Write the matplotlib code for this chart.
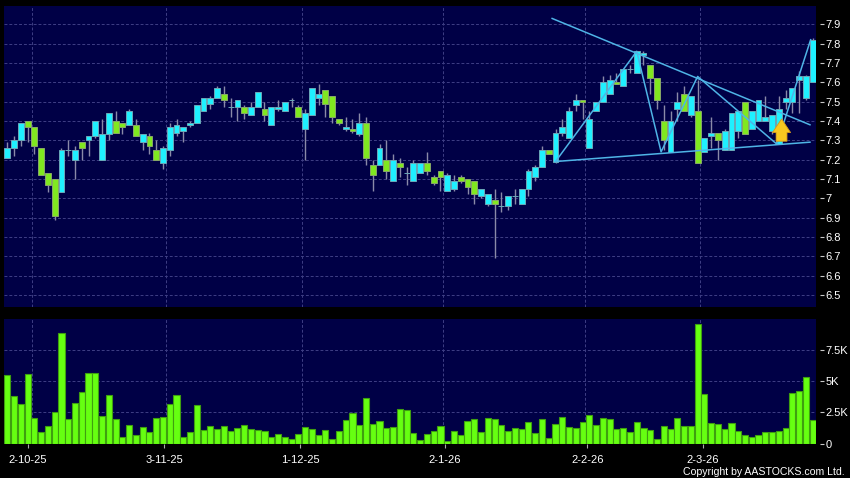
import matplotlib
matplotlib.use("Agg")
import matplotlib.pyplot as plt

plt.rcParams['font.family'] = 'Liberation Sans'

# candles
opens = [7.21,7.26,7.30,7.40,7.37,7.26,7.13,7.10,7.03,7.25,
         7.20,7.29,7.30,7.32,7.20,7.33,7.40,7.39,7.38,7.38,
         7.29,7.32,7.25,7.18,7.25,7.34,7.35,7.38,7.39,7.45,
         7.49,7.52,7.54,7.47,7.47,7.47,7.43,7.47,7.46,7.38,
         7.46,7.45,7.51,7.47,7.36,7.43,7.52,7.56,7.53,7.41,
         7.36,7.36,7.33,7.39,7.17,7.17,7.20,7.09,7.18,7.13,
         7.09,7.13,7.18,7.11,7.14,7.04,7.05,7.11,7.10,7.09,
         7.01,6.97,6.99,6.96,6.96,7.01,6.97,7.05,7.11,7.16,
         7.25,7.19,7.34,7.31,7.48,7.51,7.26,7.45,7.50,7.54,
         7.60,7.58,7.67,7.65,7.74,7.69,7.62,7.40,7.24,7.46,
         7.54,7.43,7.45,7.24,7.32,7.34,7.25,7.25,7.35,7.50,
         7.36,7.40,7.40,7.35,7.28,7.50,7.50,7.61,7.52,7.60]
closes = [7.26,7.30,7.39,7.37,7.27,7.12,7.07,6.91,7.25,7.25,
          7.25,7.26,7.32,7.40,7.33,7.44,7.34,7.37,7.45,7.32,
          7.33,7.27,7.20,7.26,7.37,7.38,7.37,7.39,7.48,7.52,
          7.52,7.57,7.51,7.47,7.51,7.44,7.47,7.55,7.43,7.47,
          7.47,7.50,7.51,7.42,7.44,7.57,7.54,7.49,7.42,7.39,
          7.37,7.35,7.39,7.21,7.12,7.26,7.14,7.20,7.16,7.13,
          7.18,7.18,7.14,7.08,7.11,7.12,7.09,7.09,7.06,7.02,
          7.05,7.02,6.97,6.96,7.01,7.01,7.05,7.14,7.16,7.25,
          7.23,7.34,7.37,7.45,7.51,7.50,7.41,7.50,7.60,7.61,
          7.59,7.67,7.67,7.76,7.75,7.62,7.51,7.30,7.40,7.50,
          7.45,7.53,7.18,7.31,7.34,7.30,7.35,7.44,7.45,7.33,
          7.45,7.51,7.42,7.43,7.46,7.52,7.57,7.63,7.63,7.82]
highs = [7.29,7.32,7.39,7.40,7.37,7.26,7.13,7.10,7.26,7.30,
         7.27,7.29,7.32,7.40,7.41,7.44,7.45,7.39,7.46,7.41,
         7.33,7.34,7.30,7.27,7.39,7.41,7.37,7.40,7.48,7.52,
         7.53,7.58,7.58,7.52,7.51,7.48,7.50,7.55,7.50,7.47,
         7.51,7.50,7.52,7.48,7.46,7.57,7.59,7.56,7.53,7.41,
         7.42,7.41,7.44,7.42,7.20,7.28,7.30,7.23,7.21,7.16,
         7.20,7.18,7.24,7.12,7.14,7.13,7.12,7.12,7.10,7.09,
         7.05,7.02,7.05,7.03,7.01,7.05,7.05,7.15,7.17,7.27,
         7.25,7.36,7.41,7.47,7.54,7.51,7.45,7.50,7.63,7.64,
         7.65,7.67,7.69,7.76,7.76,7.69,7.62,7.48,7.45,7.55,
         7.58,7.53,7.61,7.31,7.42,7.34,7.36,7.44,7.45,7.50,
         7.45,7.51,7.53,7.43,7.53,7.56,7.57,7.66,7.64,7.83]
lows = [7.21,7.22,7.27,7.29,7.23,7.12,7.03,6.89,7.03,7.22,
        7.10,7.20,7.22,7.31,7.20,7.30,7.34,7.33,7.38,7.32,
        7.25,7.23,7.20,7.15,7.22,7.32,7.29,7.37,7.39,7.45,
        7.46,7.52,7.47,7.42,7.40,7.41,7.43,7.47,7.40,7.38,
        7.45,7.45,7.47,7.42,7.20,7.43,7.48,7.42,7.39,7.38,
        7.35,7.34,7.32,7.17,7.04,7.17,7.10,7.09,7.11,7.07,
        7.09,7.13,7.12,7.07,7.04,7.04,7.04,7.08,7.02,6.97,
        7.00,6.96,6.69,6.93,6.94,6.97,6.97,7.01,7.09,7.16,
        7.23,7.18,7.32,7.31,7.45,7.41,7.26,7.45,7.50,7.54,
        7.59,7.58,7.65,7.65,7.69,7.54,7.46,7.25,7.24,7.40,
        7.45,7.42,7.18,7.24,7.26,7.20,7.25,7.25,7.31,7.33,
        7.36,7.40,7.40,7.33,7.28,7.46,7.44,7.44,7.51,7.60]

# volume in thousands
volumes = [5.46,3.76,3.17,5.59,2.04,0.91,1.42,2.53,8.84,1.94,3.25,4.09,5.65,5.65,
           2.20,3.84,1.94,0.51,1.48,0.70,1.32,0.89,2.02,2.12,3.12,3.90,0.54,0.89,
           3.09,1.10,1.42,1.16,1.37,0.99,1.24,1.45,1.16,1.10,0.99,0.48,0.75,0.51,
           0.32,0.73,1.29,1.16,0.67,1.05,0.35,0.97,1.85,2.45,1.48,3.66,1.56,1.77,
           1.24,1.32,2.77,2.69,0.81,0.27,0.78,0.99,1.42,0.19,0.99,0.70,1.83,1.96,
           0.94,2.02,1.94,1.48,1.02,1.24,1.16,1.72,0.86,1.96,0.43,1.53,2.15,1.32,
           1.24,1.72,2.31,1.51,2.02,1.99,1.16,1.26,0.91,1.69,1.21,1.08,0.38,1.40,
           1.16,2.04,1.37,1.37,9.52,3.98,1.61,1.53,1.13,1.64,0.97,0.70,0.54,0.65,
           0.89,0.89,0.97,1.21,4.06,4.17,5.35,1.88]

# trend lines and the zigzag, bar number / price
upper_x = [80.5, 118.6]
upper_y = [7.93, 7.38]
lower_x = [81, 118.6]
lower_y = [7.19, 7.29]
zigzag_x = [81, 93, 96.6, 102, 113.7, 118.7]
zigzag_y = [7.19, 7.76, 7.24, 7.63, 7.28, 7.82]
arrow_bar = 114.4
arrow_from = 7.295
arrow_to = 7.41

price_ticks = [7.9,7.8,7.7,7.6,7.5,7.4,7.3,7.2,7.1,7,6.9,6.8,6.7,6.6,6.5]
price_labels = ['7.9','7.8','7.7','7.6','7.5','7.4','7.3','7.2','7.1','7','6.9','6.8','6.7','6.6','6.5']
vol_ticks = [0, 2.5, 5, 7.5]
vol_labels = ['0', '2.5K', '5K', '7.5K']
date_ticks = [3, 23.2, 43.3, 64.6, 85.7, 102.8]
date_labels = ['2-10-25', '3-11-25', '1-12-25', '2-1-26', '2-2-26', '2-3-26']
month_grid = [3.6, 23.5, 43.5, 64.4, 85.4, 102.4]

BG = '#000046'
GRID = '#3e3e84'
LINE = '#4fb4e6'
W, H = 850, 478

fig = plt.figure(figsize=(W/100, H/100), dpi=100, facecolor='black')
ax = fig.add_axes([4/W, 1-306.7/H, 812/W, 301.2/H], facecolor=BG)
ax2 = fig.add_axes([4/W, 1-443.5/H, 812/W, 124.2/H], facecolor=BG)

bars = list(range(len(opens)))
up = [c >= o for o, c in zip(opens, closes)]
body_col = ['#1ff0ff' if u else '#80e820' for u in up]
edge_col = ['#6aa8b8' if u else '#88a868' for u in up]

ax.vlines(bars, lows, highs, color='#8a8aa8', lw=1, zorder=2)
ax.bar(bars, [abs(c-o) for o, c in zip(opens, closes)], bottom=[min(o, c) for o, c in zip(opens, closes)],
       width=0.86, color=body_col, edgecolor=edge_col, linewidth=0.7, zorder=3)

ax.plot(upper_x, upper_y, color=LINE, lw=1.1, zorder=4)
ax.plot(lower_x, lower_y, color=LINE, lw=1.1, zorder=4)
ax.plot(zigzag_x, zigzag_y, color=LINE, lw=1.1, zorder=4)
ax.annotate('', xy=(arrow_bar, arrow_to), xytext=(arrow_bar, arrow_from), zorder=5,
            arrowprops=dict(arrowstyle='simple,head_length=0.75,head_width=1.0,tail_width=0.6',
                            fc='#f8c820', ec='#d89a18', lw=0.6, shrinkA=0, shrinkB=0, mutation_scale=13))

ax.set_xlim(-0.49, 119.49)
ax.set_ylim(6.439, 7.997)
ax.set_yticks(price_ticks, price_labels)
ax.set_xticks([])

ax2.bar(bars, volumes, width=0.9, color='#66ff11', edgecolor='#3f9f10', linewidth=0.8, zorder=3)
ax2.set_xlim(-0.49, 119.49)
ax2.set_ylim(0, 9.92)
ax2.set_yticks(vol_ticks, vol_labels)
ax2.set_xticks(date_ticks, date_labels)

for a, ticks in ((ax, price_ticks), (ax2, vol_ticks)):
    a.yaxis.tick_right()
    a.tick_params(axis='y', length=0, labelcolor='white', labelsize=8, pad=7.1)
    a.tick_params(axis='x', direction='out', length=3, width=0.8, color='#aaaaaa', labelcolor='white',
                  labelsize=8, pad=5)
    # the little dashes stand off from the panel edge, native ticks cant do that
    a.hlines(ticks, 1.005, 1.0095, transform=a.get_yaxis_transform(), color='#c8c8c8', lw=0.8, clip_on=False)
    a.grid(axis='y', color=GRID, ls=(0, (3, 2)), lw=0.7, zorder=1)
    for g in month_grid:
        a.axvline(g, color=GRID, ls=(0, (3, 2)), lw=0.7, zorder=1)
    for s in a.spines.values():
        s.set_visible(False)

fig.text(845/W, 1-471.7/H, 'Copyright by AASTOCKS.com Ltd.', color='white', fontsize=7.6,
         ha='right', va='center')

fig.savefig('out.png', dpi=100, facecolor='black')
